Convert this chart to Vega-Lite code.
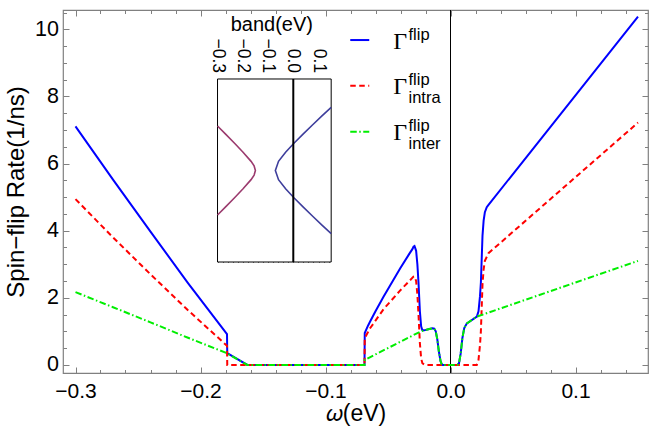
{
  "$schema": "https://vega.github.io/schema/vega-lite/v6.json",
  "width": 585,
  "height": 363,
  "autosize": {"type": "none"},
  "padding": {"left": 63, "top": 10, "right": 1, "bottom": 55},
  "background": "white",
  "config": {
    "view": {"stroke": "#808080", "strokeWidth": 1.2},
    "font": "Liberation Sans",
    "axis": {"grid": false, "domain": false, "tickColor": "#808080", "tickWidth": 1, "labelColor": "black", "titleColor": "black", "titleFontWeight": "normal", "labelFont": "Liberation Sans", "titleFont": "Liberation Sans", "zindex": 1}
  },
  "datasets": {
    "curves": [
      {"x": -0.3, "y": 7.11, "s": "total"}, {"x": -0.27, "y": 5.52, "s": "total"}, {"x": -0.24, "y": 3.97, "s": "total"}, {"x": -0.21, "y": 2.44, "s": "total"}, {"x": -0.1788, "y": 0.92, "s": "total"}, {"x": -0.1786, "y": 0.35, "s": "total"}, {"x": -0.1625, "y": 0.0, "s": "total"}, {"x": -0.0688, "y": 0.0, "s": "total"}, {"x": -0.0686, "y": 0.95, "s": "total"}, {"x": -0.066, "y": 1.17, "s": "total"}, {"x": -0.0642, "y": 1.3, "s": "total"}, {"x": -0.06, "y": 1.6, "s": "total"}, {"x": -0.0536, "y": 2.03, "s": "total"}, {"x": -0.0402, "y": 2.88, "s": "total"}, {"x": -0.033, "y": 3.31, "s": "total"}, {"x": -0.0305, "y": 3.45, "s": "total"}, {"x": -0.0296, "y": 3.52, "s": "total"}, {"x": -0.0288, "y": 3.54, "s": "total"}, {"x": -0.0282, "y": 3.48, "s": "total"}, {"x": -0.0275, "y": 3.4, "s": "total"}, {"x": -0.0265, "y": 3.0, "s": "total"}, {"x": -0.0256, "y": 2.45, "s": "total"}, {"x": -0.0245, "y": 1.6, "s": "total"}, {"x": -0.0235, "y": 1.15, "s": "total"}, {"x": -0.0225, "y": 1.03, "s": "total"}, {"x": -0.021, "y": 1.03, "s": "total"}, {"x": -0.017, "y": 1.07, "s": "total"}, {"x": -0.0145, "y": 1.09, "s": "total"}, {"x": -0.013, "y": 1.08, "s": "total"}, {"x": -0.0118, "y": 1.0, "s": "total"}, {"x": -0.0105, "y": 0.75, "s": "total"}, {"x": -0.0093, "y": 0.4, "s": "total"}, {"x": -0.008, "y": 0.12, "s": "total"}, {"x": -0.007, "y": 0.02, "s": "total"}, {"x": -0.0062, "y": 0.0, "s": "total"}, {"x": 0.0055, "y": 0.0, "s": "total"}, {"x": 0.0068, "y": 0.05, "s": "total"}, {"x": 0.0082, "y": 0.35, "s": "total"}, {"x": 0.0095, "y": 0.8, "s": "total"}, {"x": 0.011, "y": 1.1, "s": "total"}, {"x": 0.0131, "y": 1.24, "s": "total"}, {"x": 0.0211, "y": 1.44, "s": "total"}, {"x": 0.0224, "y": 1.6, "s": "total"}, {"x": 0.0236, "y": 2.05, "s": "total"}, {"x": 0.0243, "y": 2.45, "s": "total"}, {"x": 0.025, "y": 3.2, "s": "total"}, {"x": 0.0256, "y": 3.85, "s": "total"}, {"x": 0.0265, "y": 4.3, "s": "total"}, {"x": 0.0275, "y": 4.55, "s": "total"}, {"x": 0.029, "y": 4.7, "s": "total"}, {"x": 0.0304, "y": 4.77, "s": "total"}, {"x": 0.15, "y": 10.38, "s": "total"},
      {"x": -0.3, "y": 4.94, "s": "intra"}, {"x": -0.27, "y": 3.8, "s": "intra"}, {"x": -0.24, "y": 2.7, "s": "intra"}, {"x": -0.21, "y": 1.63, "s": "intra"}, {"x": -0.1788, "y": 0.57, "s": "intra"}, {"x": -0.1786, "y": 0.0, "s": "intra"}, {"x": -0.0688, "y": 0.0, "s": "intra"}, {"x": -0.0686, "y": 0.8, "s": "intra"}, {"x": -0.066, "y": 0.98, "s": "intra"}, {"x": -0.0642, "y": 1.1, "s": "intra"}, {"x": -0.06, "y": 1.32, "s": "intra"}, {"x": -0.0536, "y": 1.66, "s": "intra"}, {"x": -0.0402, "y": 2.22, "s": "intra"}, {"x": -0.033, "y": 2.5, "s": "intra"}, {"x": -0.0296, "y": 2.63, "s": "intra"}, {"x": -0.0288, "y": 2.64, "s": "intra"}, {"x": -0.0282, "y": 2.58, "s": "intra"}, {"x": -0.0275, "y": 2.5, "s": "intra"}, {"x": -0.0265, "y": 2.1, "s": "intra"}, {"x": -0.0256, "y": 1.5, "s": "intra"}, {"x": -0.0245, "y": 0.65, "s": "intra"}, {"x": -0.0235, "y": 0.2, "s": "intra"}, {"x": -0.0225, "y": 0.05, "s": "intra"}, {"x": -0.021, "y": 0.01, "s": "intra"}, {"x": -0.019, "y": 0.0, "s": "intra"}, {"x": 0.021, "y": 0.0, "s": "intra"}, {"x": 0.0224, "y": 0.15, "s": "intra"}, {"x": 0.0236, "y": 0.6, "s": "intra"}, {"x": 0.0243, "y": 1.0, "s": "intra"}, {"x": 0.025, "y": 1.75, "s": "intra"}, {"x": 0.0256, "y": 2.4, "s": "intra"}, {"x": 0.0265, "y": 2.85, "s": "intra"}, {"x": 0.0275, "y": 3.1, "s": "intra"}, {"x": 0.0304, "y": 3.33, "s": "intra"}, {"x": 0.15, "y": 7.22, "s": "intra"},
      {"x": -0.3, "y": 2.17, "s": "inter"}, {"x": -0.27, "y": 1.72, "s": "inter"}, {"x": -0.24, "y": 1.27, "s": "inter"}, {"x": -0.21, "y": 0.81, "s": "inter"}, {"x": -0.1788, "y": 0.35, "s": "inter"}, {"x": -0.1625, "y": 0.0, "s": "inter"}, {"x": -0.0688, "y": 0.0, "s": "inter"}, {"x": -0.0686, "y": 0.15, "s": "inter"}, {"x": -0.0296, "y": 0.89, "s": "inter"}, {"x": -0.0242, "y": 0.99, "s": "inter"}, {"x": -0.021, "y": 1.03, "s": "inter"}, {"x": -0.017, "y": 1.07, "s": "inter"}, {"x": -0.0145, "y": 1.09, "s": "inter"}, {"x": -0.013, "y": 1.08, "s": "inter"}, {"x": -0.0118, "y": 1.0, "s": "inter"}, {"x": -0.0105, "y": 0.75, "s": "inter"}, {"x": -0.0093, "y": 0.4, "s": "inter"}, {"x": -0.008, "y": 0.12, "s": "inter"}, {"x": -0.007, "y": 0.02, "s": "inter"}, {"x": -0.0062, "y": 0.0, "s": "inter"}, {"x": 0.0055, "y": 0.0, "s": "inter"}, {"x": 0.0068, "y": 0.05, "s": "inter"}, {"x": 0.0082, "y": 0.35, "s": "inter"}, {"x": 0.0095, "y": 0.8, "s": "inter"}, {"x": 0.011, "y": 1.1, "s": "inter"}, {"x": 0.0131, "y": 1.24, "s": "inter"}, {"x": 0.0211, "y": 1.44, "s": "inter"}, {"x": 0.15, "y": 3.1, "s": "inter"}
    ],
    "keyrows": [
      {"entry": "total", "ly": 9.68, "sup": "flip", "sub": ""},
      {"entry": "intra", "ly": 8.32, "sup": "flip", "sub": "intra"},
      {"entry": "inter", "ly": 6.95, "sup": "flip", "sub": "inter"}
    ],
    "band": [
      {"k": -0.486, "e": -0.3, "b": "lower"}, {"k": -0.4, "e": -0.269, "b": "lower"}, {"k": -0.3, "e": -0.2335, "b": "lower"}, {"k": -0.2, "e": -0.1989, "b": "lower"}, {"k": -0.1, "e": -0.1672, "b": "lower"}, {"k": -0.05, "e": -0.1551, "b": "lower"}, {"k": 0, "e": -0.15, "b": "lower"}, {"k": 0.05, "e": -0.1551, "b": "lower"}, {"k": 0.1, "e": -0.1672, "b": "lower"}, {"k": 0.2, "e": -0.1989, "b": "lower"}, {"k": 0.3, "e": -0.2335, "b": "lower"}, {"k": 0.4, "e": -0.269, "b": "lower"}, {"k": 0.486, "e": -0.3, "b": "lower"},
      {"k": -0.69, "e": 0.15, "b": "upper"}, {"k": -0.6, "e": 0.1146, "b": "upper"}, {"k": -0.5, "e": 0.0768, "b": "upper"}, {"k": -0.4, "e": 0.0396, "b": "upper"}, {"k": -0.3, "e": 0.0035, "b": "upper"}, {"k": -0.2, "e": -0.0305, "b": "upper"}, {"k": -0.1, "e": -0.0585, "b": "upper"}, {"k": 0, "e": -0.071, "b": "upper"}, {"k": 0.1, "e": -0.0585, "b": "upper"}, {"k": 0.2, "e": -0.0305, "b": "upper"}, {"k": 0.3, "e": 0.0035, "b": "upper"}, {"k": 0.4, "e": 0.0396, "b": "upper"}, {"k": 0.5, "e": 0.0768, "b": "upper"}, {"k": 0.6, "e": 0.1146, "b": "upper"}, {"k": 0.69, "e": 0.15, "b": "upper"}
    ],
    "bandticks": [{"v": -0.3}, {"v": -0.2}, {"v": -0.1}, {"v": 0.0}, {"v": 0.1}],
    "anchor": [{"t": 0}]
  },
  "layer": [
    {
      "data": {"values": [{}]},
      "mark": {"type": "rule", "color": "black", "strokeWidth": 1},
      "encoding": {
        "x": {"datum": 0, "type": "quantitative", "scale": {"domain": [-0.31, 0.158], "nice": false, "zero": false}, "axis": null},
        "y": {"datum": -0.24, "type": "quantitative", "scale": {"domain": [-0.24, 10.575], "nice": false, "zero": false}, "axis": null},
        "y2": {"datum": 10.575}
      }
    },
    {
      "data": {"name": "anchor"},
      "mark": {"type": "point", "opacity": 0},
      "encoding": {
        "x": {"field": "t", "type": "quantitative", "scale": {"domain": [-0.31, 0.158], "nice": false, "zero": false},
          "axis": {"orient": "bottom", "offset": -363, "values": [-0.3, -0.2, -0.1, 0, 0.1], "labels": false, "title": null, "tickSize": 6}},
        "y": {"field": "t", "type": "quantitative", "scale": {"domain": [-0.24, 10.575], "nice": false, "zero": false},
          "axis": {"orient": "left", "offset": -585, "values": [0, 2, 4, 6, 8, 10], "labels": false, "title": null, "tickSize": 6}}
      }
    },
    {
      "data": {"name": "anchor"},
      "mark": {"type": "point", "opacity": 0},
      "encoding": {
        "x": {"field": "t", "type": "quantitative", "scale": {"domain": [-0.31, 0.158], "nice": false, "zero": false},
          "axis": {"orient": "bottom", "offset": -363, "values": [-0.28,-0.26,-0.24,-0.22,-0.18,-0.16,-0.14,-0.12,-0.08,-0.06,-0.04,-0.02,0.02,0.04,0.06,0.08,0.12,0.14], "labels": false, "title": null, "tickSize": 3.5}},
        "y": {"field": "t", "type": "quantitative", "scale": {"domain": [-0.24, 10.575], "nice": false, "zero": false},
          "axis": {"orient": "left", "offset": -585, "values": [0.5,1,1.5,2.5,3,3.5,4.5,5,5.5,6.5,7,7.5,8.5,9,9.5,10.5], "labels": false, "title": null, "tickSize": 3.5}}
      }
    },
    {
      "data": {"name": "anchor"},
      "mark": {"type": "point", "opacity": 0},
      "encoding": {
        "x": {"field": "t", "type": "quantitative", "scale": {"domain": [-0.31, 0.158], "nice": false, "zero": false},
          "axis": {"orient": "top", "offset": -363, "values": [-0.3, -0.2, -0.1, 0, 0.1], "labels": false, "title": null, "tickSize": 6}},
        "y": {"field": "t", "type": "quantitative", "scale": {"domain": [-0.24, 10.575], "nice": false, "zero": false},
          "axis": {"orient": "right", "offset": -585, "values": [0, 2, 4, 6, 8, 10], "labels": false, "title": null, "tickSize": 6}}
      }
    },
    {
      "data": {"name": "anchor"},
      "mark": {"type": "point", "opacity": 0},
      "encoding": {
        "x": {"field": "t", "type": "quantitative", "scale": {"domain": [-0.31, 0.158], "nice": false, "zero": false},
          "axis": {"orient": "top", "offset": -363, "values": [-0.28,-0.26,-0.24,-0.22,-0.18,-0.16,-0.14,-0.12,-0.08,-0.06,-0.04,-0.02,0.02,0.04,0.06,0.08,0.12,0.14], "labels": false, "title": null, "tickSize": 3.5}},
        "y": {"field": "t", "type": "quantitative", "scale": {"domain": [-0.24, 10.575], "nice": false, "zero": false},
          "axis": {"orient": "right", "offset": -585, "values": [0.5,1,1.5,2.5,3,3.5,4.5,5,5.5,6.5,7,7.5,8.5,9,9.5,10.5], "labels": false, "title": null, "tickSize": 3.5}}
      }
    },
    {
      "encoding": {
        "x": {"field": "x", "type": "quantitative", "scale": {"domain": [-0.31, 0.158], "nice": false, "zero": false},
          "axis": {"orient": "bottom", "values": [-0.3, -0.2, -0.1, 0, 0.1], "format": ".1f", "ticks": false, "tickSize": 0,
            "labelPadding": 7, "labelFontSize": 21, "labelFlush": false, "labelOverlap": false,
            "title": "𝜔(eV)", "titleFontSize": 23, "titleY": 47.5, "titleBaseline": "alphabetic", "titleFont": "Liberation Sans, DejaVu Serif"}},
        "y": {"field": "y", "type": "quantitative", "scale": {"domain": [-0.24, 10.575], "nice": false, "zero": false},
          "axis": {"orient": "left", "values": [0, 2, 4, 6, 8, 10], "format": "d", "ticks": false, "tickSize": 0,
            "labelPadding": 4.5, "labelFontSize": 21.5, "labelFlush": false, "labelOverlap": false,
            "title": "Spin−flip Rate(1/ns)", "titleFontSize": 24, "titleX": -39.5, "titleBaseline": "alphabetic"}}
      },
      "layer": [
        {"data": {"name": "curves"}, "transform": [{"filter": "datum.s === 'total'"}],
         "mark": {"type": "line", "color": "#0000ff", "strokeWidth": 2}},
        {"data": {"name": "curves"}, "transform": [{"filter": "datum.s === 'intra'"}],
         "mark": {"type": "line", "color": "#ff0000", "strokeWidth": 2, "strokeDash": [5.5, 3.5]}},
        {"data": {"name": "curves"}, "transform": [{"filter": "datum.s === 'inter'"}],
         "mark": {"type": "line", "color": "#00ee00", "strokeWidth": 2, "strokeDash": [6.5, 2.5, 1.5, 2.5]}}
      ]
    },
    {
      "data": {"name": "keyrows"},
      "encoding": {
        "x": {"type": "quantitative", "scale": {"domain": [-0.31, 0.158], "nice": false, "zero": false}, "axis": null},
        "y": {"field": "ly", "type": "quantitative", "scale": {"domain": [-0.24, 10.575], "nice": false, "zero": false}, "axis": null}
      },
      "layer": [
        {"transform": [{"filter": "datum.entry === 'total'"}],
         "mark": {"type": "rule", "color": "#0000ff", "strokeWidth": 2},
         "encoding": {"x": {"datum": -0.0802}, "x2": {"datum": -0.065}}},
        {"transform": [{"filter": "datum.entry === 'intra'"}],
         "mark": {"type": "rule", "color": "#ff0000", "strokeWidth": 2, "strokeDash": [5.5, 3.5]},
         "encoding": {"x": {"datum": -0.0802}, "x2": {"datum": -0.065}}},
        {"transform": [{"filter": "datum.entry === 'inter'"}],
         "mark": {"type": "rule", "color": "#00ee00", "strokeWidth": 2, "strokeDash": [6.5, 2.5, 1.5, 2.5]},
         "encoding": {"x": {"datum": -0.0802}, "x2": {"datum": -0.065}}},
        {"mark": {"type": "text", "text": "Γ", "font": "Liberation Serif", "fontSize": 24, "align": "left", "baseline": "alphabetic", "dy": 8.5, "color": "black"},
         "encoding": {"x": {"datum": -0.0458}}},
        {"mark": {"type": "text", "font": "Liberation Sans", "fontSize": 16.5, "align": "left", "baseline": "alphabetic", "dy": -0.5, "color": "black"},
         "encoding": {"x": {"datum": -0.0336}, "text": {"field": "sup"}}},
        {"transform": [{"filter": "datum.sub !== ''"}],
         "mark": {"type": "text", "font": "Liberation Sans", "fontSize": 16.5, "align": "left", "baseline": "alphabetic", "dy": 17, "color": "black"},
         "encoding": {"x": {"datum": -0.0336}, "text": {"field": "sub"}}}
      ]
    },
    {
      "encoding": {
        "x": {"type": "quantitative", "scale": {"domain": [-0.9118, 1.4044], "nice": false, "zero": false}, "axis": null},
        "y": {"type": "quantitative", "scale": {"domain": [-2.213, 1.754], "nice": false, "zero": false}, "axis": null}
      },
      "layer": [
        {"data": {"values": [{}]},
         "mark": {"type": "rect", "fill": "white", "stroke": "black", "strokeWidth": 1},
         "encoding": {"x": {"datum": -0.3}, "x2": {"datum": 0.15}, "y": {"datum": -1}, "y2": {"datum": 1}}},
        {"data": {"name": "band"}, "transform": [{"filter": "datum.b === 'lower'"}],
         "mark": {"type": "line", "color": "#9b3b6e", "strokeWidth": 1.6},
         "encoding": {"x": {"field": "e"}, "y": {"field": "k"}, "order": {"field": "k", "type": "quantitative"}}},
        {"data": {"name": "band"}, "transform": [{"filter": "datum.b === 'upper'"}],
         "mark": {"type": "line", "color": "#3e3e9c", "strokeWidth": 1.6},
         "encoding": {"x": {"field": "e"}, "y": {"field": "k"}, "order": {"field": "k", "type": "quantitative"}}},
        {"data": {"values": [{}]},
         "mark": {"type": "rule", "color": "black", "strokeWidth": 2},
         "encoding": {"x": {"datum": 0}, "y": {"datum": -1}, "y2": {"datum": 1}}},
        {"data": {"name": "bandticks"},
         "mark": {"type": "text", "angle": 90, "align": "right", "baseline": "middle", "dx": -6, "fontSize": 17.5, "font": "Liberation Sans", "color": "black"},
         "encoding": {"x": {"field": "v"}, "y": {"datum": 1}, "text": {"field": "v", "type": "quantitative", "format": ".1f"}}},
        {"data": {"values": [{}]},
         "mark": {"type": "text", "text": "band(eV)", "align": "center", "baseline": "alphabetic", "dy": -48, "fontSize": 20, "font": "Liberation Sans", "color": "black"},
         "encoding": {"x": {"datum": -0.085}, "y": {"datum": 1}}}
      ]
    },
    {
      "data": {"name": "anchor"},
      "mark": {"type": "point", "opacity": 0},
      "encoding": {
        "x": {"field": "t", "type": "quantitative", "scale": {"domain": [-0.9118, 1.4044], "nice": false, "zero": false},
          "axis": {"orient": "bottom", "offset": -294, "values": [-0.3,-0.28,-0.26,-0.24,-0.22,-0.2,-0.18,-0.16,-0.14,-0.12,-0.1,-0.08,-0.06,-0.04,-0.02,0,0.02,0.04,0.06,0.08,0.1,0.12,0.14], "labels": false, "title": null, "tickSize": 2.5, "tickColor": "black"}}
      }
    },
    {
      "data": {"name": "anchor"},
      "mark": {"type": "point", "opacity": 0},
      "encoding": {
        "x": {"field": "t", "type": "quantitative", "scale": {"domain": [-0.9118, 1.4044], "nice": false, "zero": false},
          "axis": {"orient": "top", "offset": -252, "values": [-0.3,-0.28,-0.26,-0.24,-0.22,-0.2,-0.18,-0.16,-0.14,-0.12,-0.1,-0.08,-0.06,-0.04,-0.02,0,0.02,0.04,0.06,0.08,0.1,0.12,0.14], "labels": false, "title": null, "tickSize": 2.5, "tickColor": "black"}}
      }
    }
  ],
  "resolve": {"scale": {"x": "independent", "y": "independent"}}
}
